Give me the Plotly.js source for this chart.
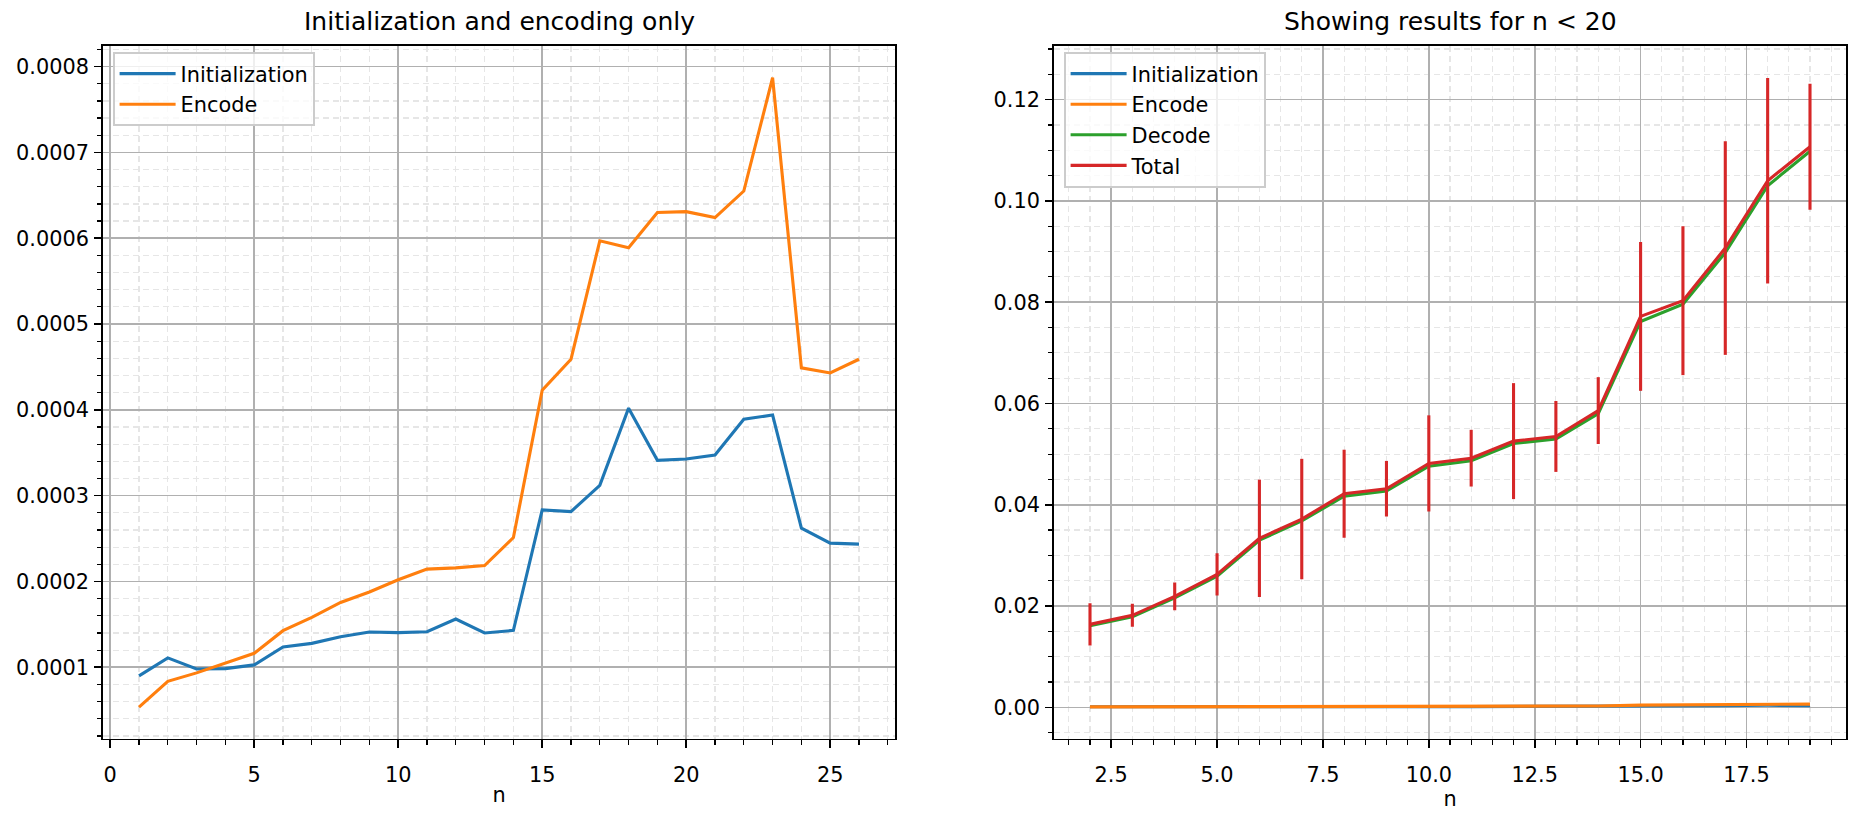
<!DOCTYPE html>
<html>
<head>
<meta charset="utf-8">
<script src="https://cdn.plot.ly/plotly-3.0.1.min.js"></script>
<style>
  html, body { margin: 0; padding: 0; background: #fff; }
  #chart { width: 1861px; height: 817px; }
</style>
</head>
<body>
<div id="chart"></div>
<script>
// ---- Left panel data (n = 1..26) ----
const nLeft = [1,2,3,4,5,6,7,8,9,10,11,12,13,14,15,16,17,18,19,20,21,22,23,24,25,26];
const initLeft = [0.0000900,0.000111,0.0000981,0.0000985,0.0001028,0.0001237,0.0001279,0.0001357,0.0001412,0.0001404,
                  0.0001415,0.0001563,0.0001400,0.0001430,0.0002834,0.0002814,0.0003121,0.000402,0.0003412,0.0003427,
                  0.0003473,0.000389,0.000394,0.0002621,0.0002447,0.0002435];
const encodeLeft = [0.0000535,0.0000837,0.0000935,0.0001051,0.0001163,0.0001427,0.0001581,0.0001756,0.0001877,0.000202,
                    0.0002144,0.0002159,0.0002186,0.0002512,0.000423,0.000459,0.000597,0.000589,0.000630,0.000631,
                    0.000624,0.000655,0.000787,0.000449,0.000443,0.000459];

// ---- Right panel data (n = 2..19) ----
const nRight = [2,3,4,5,6,7,8,9,10,11,12,13,14,15,16,17,18,19];
const initRight = [0.000111,0.0000981,0.0000985,0.0001028,0.0001237,0.0001279,0.0001357,0.0001412,0.0001404,
                   0.0001415,0.0001563,0.0001400,0.0001430,0.0002834,0.0002814,0.0003121,0.000402,0.0003412];
const encodeRight = [0.0000837,0.0000935,0.0001051,0.0001163,0.0001427,0.0001581,0.0001756,0.0001877,0.000202,
                     0.0002144,0.0002159,0.0002186,0.0002512,0.000423,0.000459,0.000597,0.000589,0.000630];
const decodeRight = [0.0161,0.0179,0.0216,0.0259,0.0330,0.0368,0.0417,0.0427,0.0476,0.0487,0.0521,0.0530,0.0580,
                     0.0762,0.0796,0.0898,0.1030,0.1098];
const totalRight = [0.01638,0.01816,0.0219,0.02625,0.03336,0.03717,0.04217,0.04316,0.04816,0.0492,0.05257,0.05349,
                    0.0586,0.0772,0.0803,0.0907,0.1040,0.1107];
const totalErr = [0.00415,0.00227,0.00274,0.00415,0.0116,0.0119,0.0087,0.0055,0.0095,0.0056,0.01145,0.0070,0.0066,
                  0.0147,0.0147,0.0211,0.0203,0.01245];

const xTickValsRight = [2.5,5,7.5,10,12.5,15,17.5];
const xTickLabelsRight = ["2.5","5.0","7.5","10.0","12.5","15.0","17.5"];

// ---- styling ----
const C0 = '#1f77b4', C1 = '#ff7f0e', C2 = '#2ca02c', C3 = '#d62728';
const FONT = 'DejaVu Sans, sans-serif';
const FS = 20.83;
const LW = 3.1;

const W = 1861, H = 817;
const leftDom = [103 / W, 895 / W];
const rightDom = [1054 / W, 1846 / W];
const yDom = [1 - 738.7 / H, 1 - 46 / H];

function axisBase(extra) {
  return Object.assign({
    showline: true, mirror: true, linecolor: '#000', linewidth: 1.6,
    ticks: 'outside', ticklen: 7.3, tickwidth: 1.6, tickcolor: '#000',
    showgrid: true, gridcolor: '#b0b0b0', gridwidth: 1.6,
    zeroline: false,
    tickfont: { family: FONT, size: FS, color: '#000' },
  }, extra);
}
function minor(dtick) {
  return { dtick: dtick, ticks: 'outside', ticklen: 4.2, tickwidth: 1.2, tickcolor: '#000',
           showgrid: true, gridcolor: '#e6e6e6', gridwidth: 1.2, griddash: '6px,4px' };
}

const traces = [
  { x: nLeft, y: initLeft, type: 'scatter', mode: 'lines', name: 'Initialization',
    line: { color: C0, width: LW }, xaxis: 'x', yaxis: 'y', legend: 'legend', legendgroup: 'a' },
  { x: nLeft, y: encodeLeft, type: 'scatter', mode: 'lines', name: 'Encode',
    line: { color: C1, width: LW }, xaxis: 'x', yaxis: 'y', legend: 'legend', legendgroup: 'b' },
  { x: nRight, y: initRight, type: 'scatter', mode: 'lines', name: 'Initialization',
    line: { color: C0, width: LW }, xaxis: 'x2', yaxis: 'y2', legend: 'legend2', legendgroup: 'c' },
  { x: nRight, y: encodeRight, type: 'scatter', mode: 'lines', name: 'Encode',
    line: { color: C1, width: LW }, xaxis: 'x2', yaxis: 'y2', legend: 'legend2', legendgroup: 'd' },
  { x: nRight, y: decodeRight, type: 'scatter', mode: 'lines', name: 'Decode',
    line: { color: C2, width: LW }, xaxis: 'x2', yaxis: 'y2', legend: 'legend2', legendgroup: 'e' },
  { x: nRight, y: totalRight, type: 'scatter', mode: 'lines', name: 'Total',
    line: { color: C3, width: LW }, xaxis: 'x2', yaxis: 'y2', legend: 'legend2', legendgroup: 'f',
    error_y: { type: 'data', array: totalErr, visible: true, color: C3, thickness: LW, width: 0 } },
];

const legendStyle = {
  bgcolor: 'rgba(255,255,255,0.8)', bordercolor: '#cccccc', borderwidth: 1.6,
  font: { family: FONT, size: FS, color: '#000' }, itemwidth: 56,
  xanchor: 'left', yanchor: 'top', tracegroupgap: 0.5
};

const layout = {
  width: W, height: H,
  margin: { l: 0, r: 0, t: 0, b: 0 },
  paper_bgcolor: '#fff', plot_bgcolor: '#fff',
  showlegend: true,
  legend: Object.assign({ x: 113 / W, y: 1 - 52 / H }, legendStyle),
  legend2: Object.assign({ x: 1064 / W, y: 1 - 52 / H }, legendStyle),
  xaxis: axisBase({ domain: leftDom, anchor: 'y', range: [-0.25, 27.25], tick0: 0, dtick: 5,
    ticklabelstandoff: 9, minor: minor(1),
    title: { text: 'n', font: { family: FONT, size: FS, color: '#000' }, standoff: 2 } }),
  yaxis: axisBase({ domain: yDom, anchor: 'x', range: [0.0000168, 0.000824], tick0: 0, dtick: 0.0001,
    ticklabelstandoff: 1, tickformat: '.4f', minor: minor(0.00002) }),
  xaxis2: axisBase({ domain: rightDom, anchor: 'y2', range: [1.15, 19.85],
    tickmode: 'array', tickvals: xTickValsRight, ticktext: xTickLabelsRight,
    ticklabelstandoff: 9, minor: minor(0.5),
    title: { text: 'n', font: { family: FONT, size: FS, color: '#000' }, standoff: 2 } }),
  yaxis2: axisBase({ domain: yDom, anchor: 'x2', range: [-0.0062, 0.1306], tick0: 0, dtick: 0.02,
    ticklabelstandoff: 1, tickformat: '.2f', minor: minor(0.005) }),
  annotations: [
    { text: 'Initialization and encoding only', xref: 'paper', yref: 'paper',
      x: (leftDom[0] + leftDom[1]) / 2, y: 1 - 38 / H, xanchor: 'center', yanchor: 'bottom',
      showarrow: false, font: { family: FONT, size: 25, color: '#000' } },
    { text: 'Showing results for n &lt; 20', xref: 'paper', yref: 'paper',
      x: (rightDom[0] + rightDom[1]) / 2, y: 1 - 38 / H, xanchor: 'center', yanchor: 'bottom',
      showarrow: false, font: { family: FONT, size: 25, color: '#000' } },
  ],
};

Plotly.newPlot('chart', traces, layout, { displayModeBar: false, staticPlot: true });
</script>
</body>
</html>
